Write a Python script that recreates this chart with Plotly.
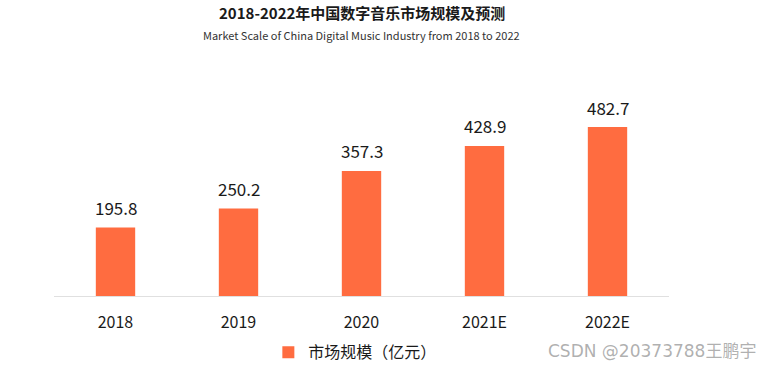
import plotly.graph_objects as go

categories = ["2018", "2019", "2020", "2021E", "2022E"]
values = [195.8, 250.2, 357.3, 428.9, 482.7]
value_labels = ["195.8", "250.2", "357.3", "428.9", "482.7"]
series_name = "市场规模（亿元）"
title_text = "2018-2022年中国数字音乐市场规模及预测"
subtitle_text = "Market Scale of China Digital Music Industry from 2018 to 2022"
watermark_text = "CSDN @20373788王鹏宇"

FONT = "Noto Sans CJK SC, Noto Sans, sans-serif"
BAR = "#FF6C40"

fig = go.Figure()
fig.add_trace(go.Bar(
    x=categories, y=values, name=series_name,
    marker=dict(color=BAR, line=dict(width=0)),
))

# value labels: category index positions on the category axis
annotations = [
    dict(x=i, y=v, text=t, xref="x", yref="y", xanchor="center", yanchor="middle",
         yshift=20, showarrow=False, font=dict(size=17, color="#1a1a1a", family=FONT))
    for i, (v, t) in enumerate(zip(values, value_labels))
]
annotations += [
    dict(text="<b>" + title_text + "</b>", xref="paper", yref="paper",
         x=0.5, y=(296 - 13) / 210, xanchor="center", yanchor="middle",
         showarrow=False, font=dict(size=15, color="#1a1a1a", family=FONT)),
    dict(text=subtitle_text, xref="paper", yref="paper",
         x=0.5, y=(296 - 35) / 210, xanchor="center", yanchor="middle",
         showarrow=False, font=dict(size=11, color="#333333", family=FONT)),
    dict(text=watermark_text, xref="paper", yref="paper",
         x=(758 - 54) / 615, y=(296 - 351) / 210, xanchor="right", yanchor="middle",
         showarrow=False, font=dict(size=17, color="rgba(150,150,150,0.75)",
                                     family="DejaVu Sans, Noto Sans CJK SC, sans-serif")),
]

fig.update_layout(
    width=772, height=366,
    margin=dict(l=54, r=103, t=86, b=70, autoexpand=False),
    paper_bgcolor="white", plot_bgcolor="white",
    font=dict(family=FONT, color="#1a1a1a"),
    bargap=0.68,
    showlegend=True,
    legend=dict(orientation="h", x=0.49, xanchor="center", y=-0.268, yanchor="middle",
                font=dict(size=16, color="#1a1a1a", family=FONT),
                itemwidth=30, traceorder="normal"),
    xaxis=dict(type="category", range=[-0.5, len(categories) - 0.5],
               showgrid=False, showline=True, linecolor="#e0e0e0", linewidth=1,
               ticks="", tickfont=dict(size=16, color="#1a1a1a", family=FONT),
               ticklabelstandoff=12, fixedrange=True, automargin=False),
    yaxis=dict(range=[0, 600], showgrid=False, showticklabels=False, zeroline=False,
               showline=False, ticks="", fixedrange=True, automargin=False),
    annotations=annotations,
)

fig.write_html("out.html", config={"displayModeBar": False},
               post_script="document.body.style.margin='0';document.body.style.overflow='hidden';")
